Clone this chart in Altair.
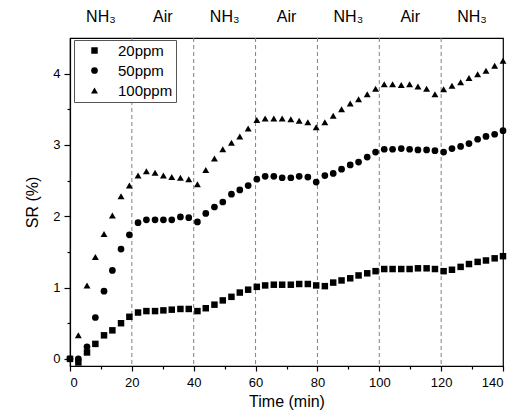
import altair as alt
import pandas as pd

time_min = [0, 2.7, 5.5, 8.2, 11.0, 13.7, 16.5, 19.2, 22.0, 24.7, 27.5, 30.2, 32.9, 35.7, 38.4,
            41.2, 43.9, 46.7, 49.4, 52.2, 54.9, 57.6, 60.4, 63.1, 65.9, 68.6, 71.4, 74.1, 76.9,
            79.6, 82.4, 85.1, 87.8, 90.6, 93.3, 96.1, 98.8, 101.6, 104.3, 107.1, 109.8, 112.5,
            115.3, 118.0, 120.8, 123.5, 126.3, 129.0, 131.8, 134.5, 137.3, 140.0]

sr_20 = [0.00, -0.05, 0.09, 0.21, 0.33, 0.40, 0.50, 0.59, 0.65, 0.67, 0.67, 0.68, 0.69, 0.70, 0.70,
         0.67, 0.71, 0.76, 0.82, 0.87, 0.93, 0.97, 1.01, 1.03, 1.04, 1.04, 1.04, 1.05, 1.05,
         1.03, 1.02, 1.07, 1.10, 1.13, 1.17, 1.20, 1.23, 1.26, 1.26, 1.26, 1.26, 1.27, 1.27,
         1.26, 1.23, 1.25, 1.29, 1.33, 1.36, 1.38, 1.41, 1.44]

sr_50 = [0.00, 0.00, 0.17, 0.58, 0.95, 1.24, 1.54, 1.74, 1.91, 1.95, 1.95, 1.95, 1.95, 1.99, 1.98,
         1.92, 2.04, 2.13, 2.20, 2.31, 2.37, 2.43, 2.52, 2.56, 2.56, 2.54, 2.54, 2.56, 2.55,
         2.48, 2.57, 2.60, 2.66, 2.72, 2.76, 2.83, 2.90, 2.94, 2.94, 2.95, 2.94, 2.93, 2.93,
         2.92, 2.90, 2.95, 2.98, 3.02, 3.08, 3.12, 3.15, 3.20]

sr_100 = [None, 0.33, 1.03, 1.43, 1.75, 2.01, 2.28, 2.43, 2.57, 2.63, 2.61, 2.57, 2.55, 2.54, 2.52,
          2.45, 2.65, 2.81, 2.94, 3.03, 3.12, 3.23, 3.35, 3.37, 3.37, 3.37, 3.36, 3.34, 3.32,
          3.25, 3.32, 3.41, 3.50, 3.58, 3.64, 3.71, 3.79, 3.85, 3.85, 3.84, 3.85, 3.82, 3.79,
          3.71, 3.78, 3.83, 3.88, 3.94, 3.99, 4.04, 4.11, 4.18]

series_names = ["20ppm", "50ppm", "100ppm"]
series_shapes = ["square", "circle", "triangle-up"]
series_sizes = [42, 48, 90]

switch_times = [20, 40, 60, 80, 100, 120]
phase_centers = [10, 30, 50, 70, 90, 110, 130]
phase_labels = ["NH\u2083", "Air", "NH\u2083", "Air", "NH\u2083", "Air", "NH\u2083"]

x_major = [0, 20, 40, 60, 80, 100, 120, 140]
x_minor = [10, 30, 50, 70, 90, 110, 130]
y_major = [0, 1, 2, 3, 4]
y_minor = [0.5, 1.5, 2.5, 3.5]

rows = []
for name, vals in zip(series_names, [sr_20, sr_50, sr_100]):
    for t, v in zip(time_min, vals):
        if v is not None:
            rows.append({"t": t, "sr": v, "series": name})
df = pd.DataFrame(rows)

FONT = "Liberation Sans"
xscale = alt.Scale(domain=[0, 140], nice=False, zero=False)
yscale = alt.Scale(domain=[-0.1, 4.5], nice=False, zero=False)

rules = alt.Chart(pd.DataFrame({"t": switch_times})).mark_rule(
    color="#808080", strokeDash=[4, 3], strokeWidth=1
).encode(x=alt.X("t:Q", scale=xscale, axis=None))

points = alt.Chart(df).mark_point(filled=True, color="black", opacity=1).encode(
    x=alt.X("t:Q", scale=xscale,
            axis=alt.Axis(values=x_major, title="Time (min)", tickSize=5, labelPadding=5,
                          titlePadding=4, orient="bottom")),
    y=alt.Y("sr:Q", scale=yscale,
            axis=alt.Axis(values=y_major, title="SR (%)", tickSize=6, labelPadding=4,
                          titlePadding=12, orient="left")),
    shape=alt.Shape("series:N", scale=alt.Scale(domain=series_names, range=series_shapes),
                    sort=series_names, legend=alt.Legend(title=None)),
    size=alt.Size("series:N", scale=alt.Scale(domain=series_names, range=series_sizes),
                  sort=series_names, legend=alt.Legend(title=None)),
)

minor = alt.Chart(df).mark_point(opacity=0).encode(
    x=alt.X("t:Q", scale=xscale,
            axis=alt.Axis(values=x_minor, labels=False, title=None, tickSize=3, domain=False,
                          orient="bottom")),
    y=alt.Y("sr:Q", scale=yscale,
            axis=alt.Axis(values=y_minor, labels=False, title=None, tickSize=3, domain=False,
                          orient="left")),
)

top = alt.Chart(pd.DataFrame({"c": phase_centers, "lab": phase_labels})).mark_text(
    fontSize=16, font=FONT, color="black", baseline="middle", y=-21
).encode(x=alt.X("c:Q", scale=xscale, axis=None), text="lab:N")

chart = alt.layer(rules, minor, points, top).resolve_axis(
    x="independent", y="independent"
).properties(
    width=433, height=328,
    autosize=alt.AutoSizeParams(type="none"),
    padding={"left": 62, "top": 30, "right": 7, "bottom": 46},
).configure_view(
    stroke="black", strokeWidth=1.2
).configure_axis(
    grid=False, domainColor="black", tickColor="black", labelColor="black",
    titleColor="black", labelFont=FONT, titleFont=FONT, labelFontSize=13,
    titleFontSize=16, titleFontWeight="normal", domainWidth=1.2, tickWidth=1.2,
).configure_legend(
    orient="none", legendX=4, legendY=2, strokeColor="#555555", fillColor="white",
    padding=3, symbolOffset=10, labelFont=FONT, labelFontSize=15, labelColor="black",
    labelOffset=16, rowPadding=4, symbolFillColor="black",
    symbolStrokeColor="black",
)

chart.save("out.html", embed_options={"renderer": "svg", "actions": False})
